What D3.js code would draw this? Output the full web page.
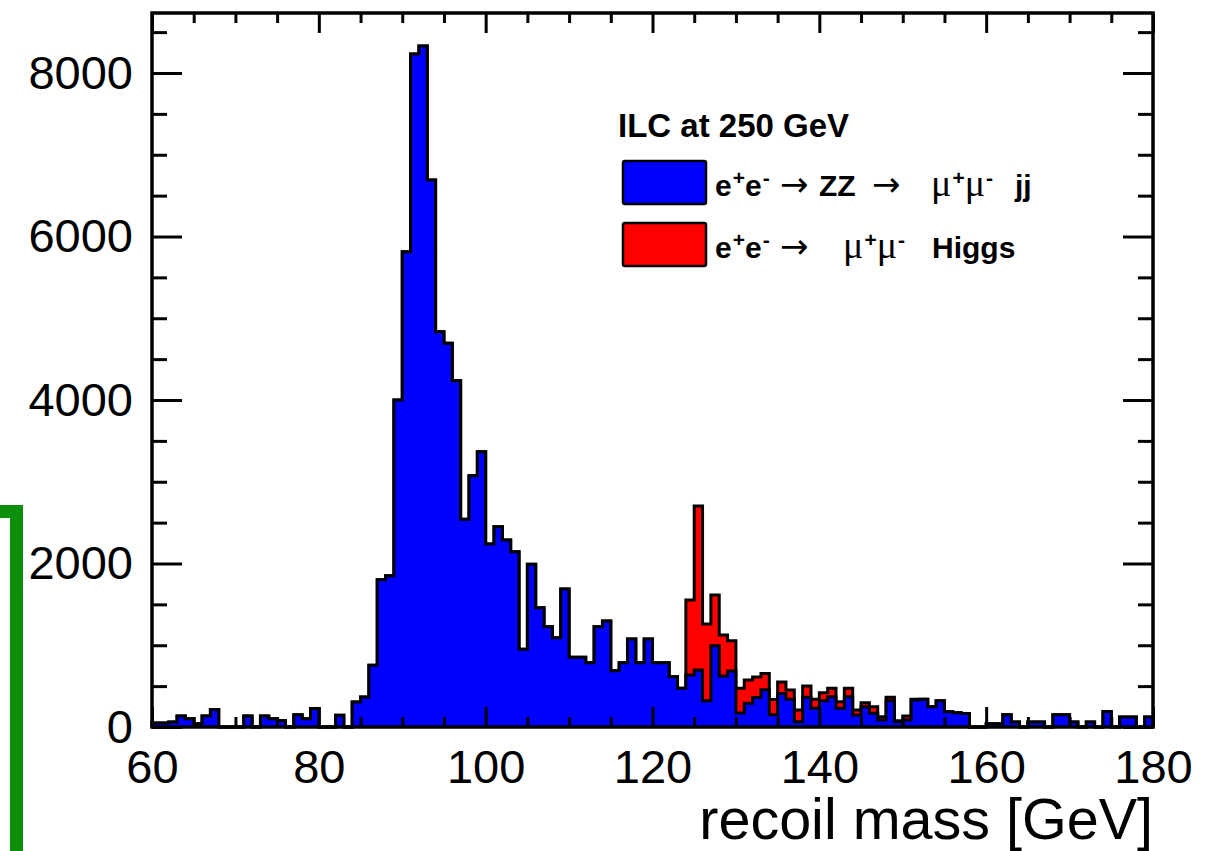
<!DOCTYPE html>
<html>
<head>
<meta charset="utf-8">
<script src="https://cdn.jsdelivr.net/npm/d3@7"></script>
<style>
  html, body { margin: 0; padding: 0; background: #fff; }
  svg { display: block; font-family: 'Liberation Sans', Arial, Helvetica, sans-serif; }
</style>
</head>
<body>
<svg id="chart" width="1220" height="851"></svg>
<script>
// recoil mass range, 1 GeV bins
const massRange = [60, 180];
const binWidth = 1;

// e+e- -> ZZ -> mu+mu- jj, events per bin
const zzCounts = [
  50, 50, 60, 135, 100, 40, 135, 215, 0, 0,
  0, 135, 0, 135, 100, 80, 0, 150, 100, 225,
  0, 0, 143, 0, 306, 367, 755, 1800, 1850, 4000,
  5814, 8232, 8330, 6690, 4836, 4693, 4236, 2540, 3074, 3368,
  2239, 2451, 2287, 2145, 950, 1990, 1460, 1227, 1093, 1688,
  852, 852, 787, 1227, 1297, 689, 787, 1076, 787, 1076,
  787, 787, 615, 473, 636, 697, 322, 995, 624, 685,
  170, 290, 360, 455, 150, 410, 338, 65, 363, 228,
  322, 371, 228, 371, 147, 249, 167, 86, 322, 65,
  86, 330, 338, 249, 322, 188, 175, 165, 0, 0,
  40, 40, 150, 60, 0, 60, 60, 0, 150, 150,
  60, 0, 60, 0, 190, 0, 122, 122, 0, 122
];

// e+e- -> mu+mu- Higgs, events per bin (stacked on ZZ)
const higgsCounts = [
  0, 0, 0, 0, 0, 0, 0, 0, 0, 0,
  0, 0, 0, 0, 0, 0, 0, 0, 0, 0,
  0, 0, 0, 0, 0, 0, 0, 0, 0, 0,
  0, 0, 0, 0, 0, 0, 0, 0, 0, 0,
  0, 0, 0, 0, 0, 0, 0, 0, 0, 0,
  0, 0, 0, 0, 0, 0, 0, 0, 0, 0,
  0, 0, 0, 0, 917, 2006, 938, 620, 501, 371,
  303, 285, 252, 200, 187, 140, 115, 143, 138, 110,
  98, 102, 82, 102, 61, 49, 82, 40, 41, 12,
  49, 8, 0, 0, 0, 0, 0, 0, 0, 0,
  0, 0, 0, 0, 0, 0, 0, 0, 0, 0,
  0, 0, 0, 0, 0, 0, 0, 0, 0, 0
];

const xMajorTicks = [60, 80, 100, 120, 140, 160, 180];
const xMinorTicks = [65, 70, 75, 85, 90, 95, 105, 110, 115, 125, 130, 135, 145, 150, 155, 165, 170, 175];
const yMajorTicks = [0, 2000, 4000, 6000, 8000];
const yMinorTicks = [500, 1000, 1500, 2500, 3000, 3500, 4500, 5000, 5500, 6500, 7000, 7500, 8500];
const yMax = 8734;

const xTitle = 'recoil mass [GeV]';
const legendTitle = 'ILC at 250 GeV';
const legendColors = ['#0000ff', '#ff0000'];
// label words, each a list of [text, kind] pieces
const legendLabels = [
  [[['e', 'b'], ['+', 'sup'], ['e', 'b'], ['-', 'sup']], [['\u2192', 'arrow']], [['ZZ', 'b']], [['\u2192', 'arrow']],
   [['\u03bc', 'greek'], ['+', 'sup'], ['\u03bc', 'greek'], ['-', 'sup']], [['jj', 'b']]],
  [[['e', 'b'], ['+', 'sup'], ['e', 'b'], ['-', 'sup']], [['\u2192', 'arrow']],
   [['\u03bc', 'greek'], ['+', 'sup'], ['\u03bc', 'greek'], ['-', 'sup']], [['Higgs', 'b']]]
];

// frame in pixels
const frame = { left: 152, right: 1153, top: 13, bottom: 727 };
// where each legend word starts, relative to the text column
const legendWordX = [
  [0, 65, 104, 157, 216, 300],
  [0, 65, 128, 217]
];

const svg = d3.select('#chart');

const x = d3.scaleLinear().domain(massRange).range([frame.left, frame.right]);
const y = d3.scaleLinear().domain([0, yMax]).range([frame.bottom, frame.top]);

// green bracket at the left edge
svg.append('path')
  .attr('d', 'M0,511.5 H16.5 V860')
  .attr('fill', 'none')
  .attr('stroke', '#0c900c')
  .attr('stroke-width', 13)
  .attr('stroke-linejoin', 'miter');

// histogram helpers
const binEdges = zzCounts.map((_, i) => massRange[0] + i * binWidth);
const stepPoints = counts => [[massRange[0], 0]]
  .concat(counts.map((c, i) => [binEdges[i], c]))
  .concat([[massRange[1], counts[counts.length - 1]], [massRange[1], 0]]);

const area = d3.area()
  .curve(d3.curveStepAfter)
  .x(d => x(d[0]))
  .y0(y(0))
  .y1(d => y(d[1]));
const line = d3.line()
  .curve(d3.curveStepAfter)
  .x(d => x(d[0]))
  .y(d => y(d[1]));

const totalCounts = zzCounts.map((c, i) => c + higgsCounts[i]);

// stack: sum first (red), ZZ drawn over it
const hist = svg.append('g');
[[totalCounts, '#ff0000'], [zzCounts, '#0000ff']].forEach(([counts, color]) => {
  const pts = stepPoints(counts);
  hist.append('path').attr('d', area(pts)).attr('fill', color);
  hist.append('path').attr('d', line(pts))
    .attr('fill', 'none')
    .attr('stroke', '#000')
    .attr('stroke-width', 3)
    .attr('stroke-linejoin', 'miter');
});

// axes: ticks inward on all four sides
const axes = svg.append('g');
function drawAxis(axis, tx, ty) {
  const g = axes.append('g').attr('transform', `translate(${tx},${ty})`).call(axis);
  g.select('.domain').remove();
  g.selectAll('.tick line').attr('stroke', '#000').attr('stroke-width', 3);
  return g;
}

const xLabels = drawAxis(d3.axisBottom(x).tickValues(xMajorTicks).tickSize(-20).tickPadding(23).tickFormat(d3.format('d')), 0, frame.bottom);
drawAxis(d3.axisBottom(x).tickValues(xMinorTicks).tickSize(-10).tickFormat(''), 0, frame.bottom);
drawAxis(d3.axisTop(x).tickValues(xMajorTicks).tickSize(-20).tickFormat(''), 0, frame.top);
drawAxis(d3.axisTop(x).tickValues(xMinorTicks).tickSize(-10).tickFormat(''), 0, frame.top);

const yLabels = drawAxis(d3.axisLeft(y).tickValues(yMajorTicks).tickSize(-30).tickPadding(19).tickFormat(d3.format('d')), frame.left, 0);
drawAxis(d3.axisLeft(y).tickValues(yMinorTicks).tickSize(-15).tickFormat(''), frame.left, 0);
drawAxis(d3.axisRight(y).tickValues(yMajorTicks).tickSize(-30).tickFormat(''), frame.right, 0);
drawAxis(d3.axisRight(y).tickValues(yMinorTicks).tickSize(-15).tickFormat(''), frame.right, 0);

[xLabels, yLabels].forEach(g => g.selectAll('text')
  .attr('fill', '#000')
  .style('font-size', '47px')
  .style('font-family', "'Liberation Sans', Arial, sans-serif"));

axes.append('rect')
  .attr('x', frame.left).attr('y', frame.top)
  .attr('width', frame.right - frame.left).attr('height', frame.bottom - frame.top)
  .attr('fill', 'none').attr('stroke', '#000').attr('stroke-width', 3.5);

// axis title
svg.append('text')
  .attr('x', frame.right)
  .attr('y', 839)
  .attr('text-anchor', 'end')
  .style('font-size', '57.5px')
  .text(xTitle);

// legend
const legend = svg.append('g').attr('transform', 'translate(618,137)');
legend.append('text')
  .style('font-size', '33px')
  .style('font-weight', 'bold')
  .text(legendTitle);

legendLabels.forEach((words, i) => {
  const row = legend.append('g').attr('transform', `translate(0,${59 + i * 62})`);
  row.append('rect')
    .attr('x', 5).attr('y', -35)
    .attr('width', 83).attr('height', 43)
    .attr('rx', 2)
    .attr('fill', legendColors[i])
    .attr('stroke', '#000')
    .attr('stroke-width', 2.5);
  words.forEach((pieces, w) => {
    const text = row.append('text').attr('x', 97 + legendWordX[i][w]).attr('y', 0).style('font-size', '30px');
    let raised = false;
    pieces.forEach(([s, kind]) => {
      const t = text.append('tspan').text(s);
      if (kind === 'sup') {
        t.attr('dy', raised ? 0 : -11).attr('dx', 1).style('font-size', '21px').style('font-weight', 'bold');
        raised = true;
      } else {
        if (raised) t.attr('dy', 11);
        raised = false;
        if (kind === 'b') t.style('font-weight', 'bold');
        if (kind === 'arrow') t.style('font-family', "'DejaVu Sans', sans-serif").style('font-size', '34px');
        if (kind === 'greek') t.style('font-family', "'Liberation Serif', 'DejaVu Serif', serif").style('font-size', '38px');
      }
    });
  });
});
</script>
</body>
</html>
